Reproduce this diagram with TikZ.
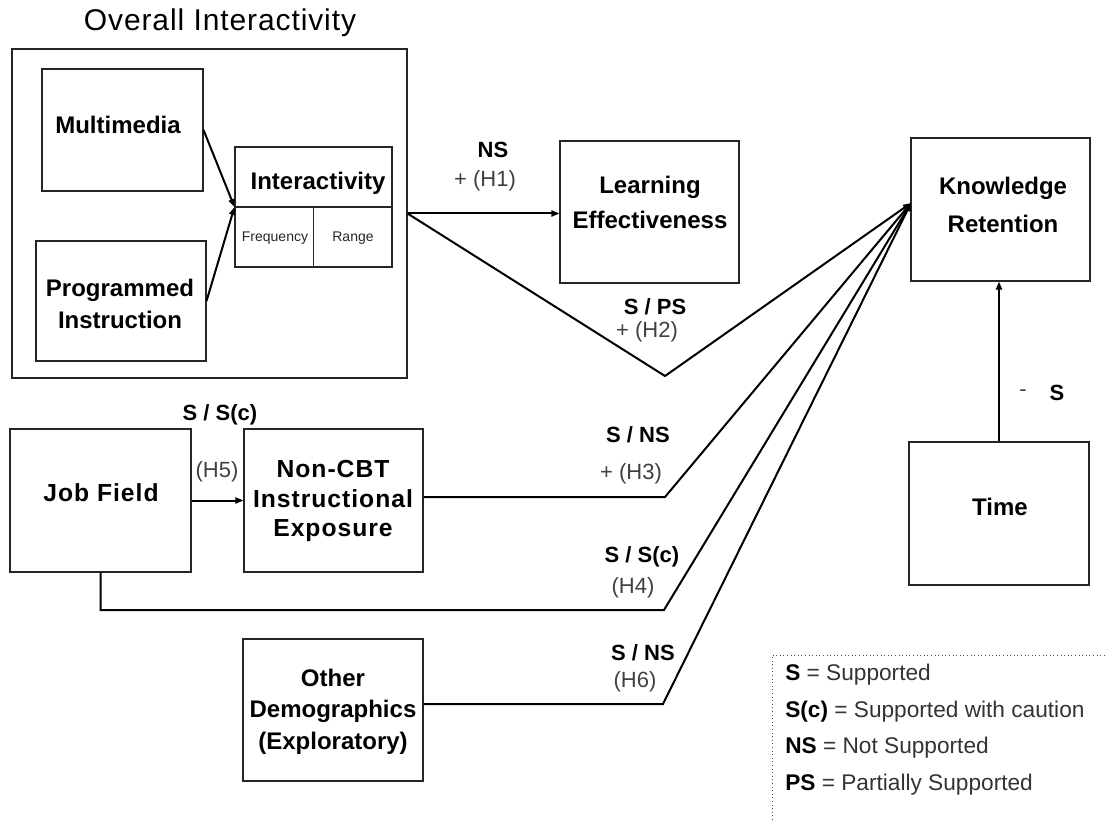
\documentclass[tikz,border=0pt]{standalone}
\usepackage{fontspec}
\setmainfont{Liberation Sans}
\newfontfamily\widesans[LetterSpace=4]{Liberation Sans}
\newfontfamily\titlesans[LetterSpace=3]{Liberation Sans}
\usetikzlibrary{arrows.meta}
\begin{document}
\begin{tikzpicture}[x=0.75pt,y=-0.75pt,
  box/.style={draw=black!85, line width=0.8pt, inner sep=0pt},
  btxt/.style={font=\fontsize{18}{24}\selectfont\bfseries, align=center, inner sep=0pt},
  conn/.style={line width=1.5pt},
  arr/.style={conn, -{Triangle[length=6pt,width=4.5pt]}},
  blab/.style={font=\fontsize{16.5}{19}\selectfont\bfseries, inner sep=0pt},
  hlab/.style={font=\fontsize{16.5}{19}\selectfont, text=black!75, inner sep=0pt},
  small/.style={font=\fontsize{10.5}{12}\selectfont, text=black!85, inner sep=0pt},
  leg/.style={font=\fontsize{17}{20}\selectfont, anchor=west, inner sep=0pt, text=black!80},
]
\useasboundingbox (0,0) rectangle (1107,820);

% title
\node[font=\titlesans\fontsize{22.5}{26}\selectfont, inner sep=0pt] (title) at (220,23) {Overall Interactivity};

% boxes
\node[box, minimum width=296.25pt, minimum height=246.75pt] (outer) at (209.5,213.5) {};
\node[box, minimum width=120.75pt, minimum height=91.5pt] (mm) at (122.5,130) {};
\node[box, minimum width=127.5pt, minimum height=90pt] (pi) at (121,301) {};
\node[box, minimum width=117.75pt, minimum height=90pt] (inter) at (313.5,207) {};
\node[box, minimum width=134.25pt, minimum height=106.5pt] (le) at (649.5,212) {};
\node[box, minimum width=134.25pt, minimum height=107.25pt] (kr) at (1000.5,209.5) {};
\node[box, minimum width=135pt, minimum height=107.25pt] (time) at (999,513.5) {};
\node[box, minimum width=135.75pt, minimum height=107.25pt] (jf) at (100.5,500.5) {};
\node[box, minimum width=134.25pt, minimum height=107.25pt] (nc) at (333.5,500.5) {};
\node[box, minimum width=135pt, minimum height=106.5pt] (od) at (333,710) {};

% interactivity dividers
\draw[box] (inter.west) -- (inter.east);
\draw[box] (inter.center) -- (inter.south);

% box texts
\node[btxt] (mmt) at (118,125) {Multimedia};
\node[btxt] (pit) at (120,304) {Programmed\\Instruction};
\node[btxt] (intt) at (318,183) {Interactivity};
\node[small] (freq) at (275,238) {Frequency};
\node[small] (range) at (353,238) {Range};
\node[btxt, font=\fontsize{18}{26}\selectfont\bfseries] (let) at (650,202.5) {Learning\\Effectiveness};
\node[btxt, font=\fontsize{18}{28}\selectfont\bfseries] (krt) at (1003,205) {Knowledge\\Retention};
\node[btxt] (timet) at (1000,507) {Time};
\node[btxt, font=\widesans\fontsize{18.5}{22}\selectfont\bfseries] (jft) at (101,493) {Job Field};
\node[btxt, font=\widesans\fontsize{18.5}{22}\selectfont\bfseries] (nct) at (333,501) {Non-CBT\\Instructional\\Exposure};
\node[btxt, font=\fontsize{18}{23.5}\selectfont\bfseries] (odt) at (333,711.5) {Other\\Demographics\\(Exploratory)};

% coordinates
\coordinate (krin) at (911,203);
\coordinate (v2) at (665,376);
\coordinate (b3) at (665,497);
\coordinate (b4) at (664,610);
\coordinate (b6) at (663,704);

% connectors
\draw[arr] (mm.east) -- (inter.west);
\draw[arr] (pi.east) -- (inter.west);
\draw[arr] (outer.east) -- (outer.east -| le.west);
\draw[arr] (outer.east) -- (v2) -- (krin);
\draw[arr] (b3 -| nc.east) -- (b3) -- (krin);
\draw[arr] (jf.south) -- (jf.south |- b4) -- (b4) -- (krin);
\draw[arr] (b6 -| od.east) -- (b6) -- (krin);
\draw[arr] (jf.east) -- (nc.west);
\draw[arr] (time.north) -- (time.north |- kr.south);

% labels
\node[blab] (l1a) at (493,150) {NS};
\node[hlab] (l1b) at (485,181) {+ (H1)};
\node[blab] (l2a) at (655,307) {S / PS};
\node[hlab] (l2b) at (647,332) {+ (H2)};
\node[blab] (l3a) at (638,435) {S / NS};
\node[hlab] (l3b) at (631,474) {+ (H3)};
\node[blab] (l4a) at (642,557) {S / S(c)};
\node[hlab] (l4b) at (633,588) {(H4)};
\node[blab] (l6a) at (643,653) {S / NS};
\node[hlab] (l6b) at (635,682) {(H6)};
\node[blab] (l5a) at (220,415) {S / S(c)};
\node[hlab] (l5b) at (217,472) {(H5)};
\node[hlab] (ltm) at (1023,393) {-};
\node[blab] (lts) at (1057,393) {S};

% legend
\draw[dotted, black!70, line width=0.7pt] (772,820) -- (772,655) -- (1107,655);
\node[leg] (lg1) at (785,675) {\textcolor{black}{\textbf{S}} = Supported};
\node[leg] (lg2) at (785,712) {\textcolor{black}{\textbf{S(c)}} = Supported with caution};
\node[leg] (lg3) at (785,748) {\textcolor{black}{\textbf{NS}} = Not Supported};
\node[leg] (lg4) at (785,785) {\textcolor{black}{\textbf{PS}} = Partially Supported};
\end{tikzpicture}
\end{document}
